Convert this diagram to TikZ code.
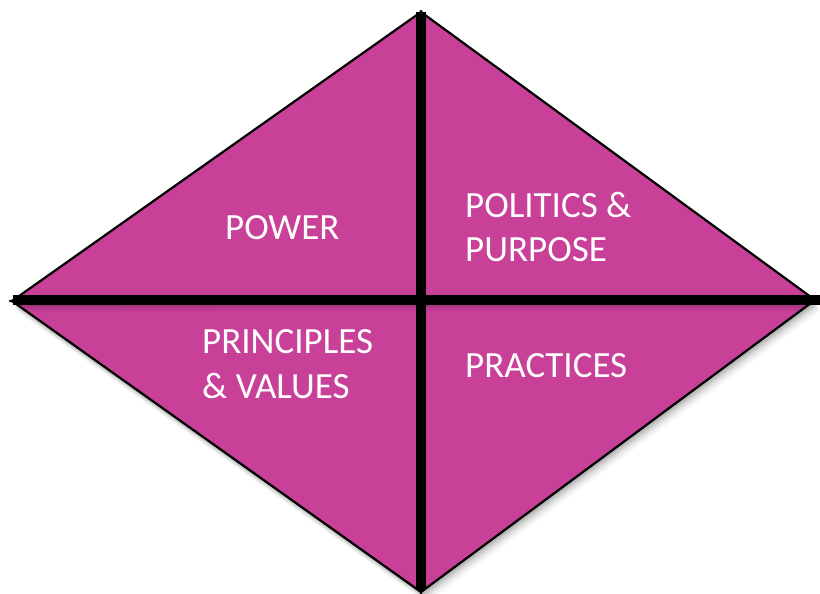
\documentclass[tikz,border=0pt]{standalone}
\usepackage{fontspec}
\setmainfont{Carlito}
\definecolor{mag}{RGB}{200,64,152}
\newcommand\trishadow[3]{%
  \foreach \d/\o in {1/0.12,3/0.10,5/0.08,7/0.06,9/0.04,11/0.03}{%
    \fill[black,opacity=\o] ([shift={(0.5*\d,\d)}]#1) -- ([shift={(0.5*\d,\d)}]#2) -- ([shift={(0.5*\d,\d)}]#3) -- cycle;}}
\begin{document}
\begin{tikzpicture}[x=1pt,y=-1pt,
  tri/.style={fill=mag,draw=black,line width=2.2pt,line join=miter},
  bar/.style={draw=black,line width=10pt},
  lbl/.style={text=white,font=\fontsize{37}{44}\selectfont,inner sep=0pt,anchor=base west}]
\useasboundingbox (0,0) rectangle (820,594);
\coordinate (T) at (421,12);
\coordinate (B) at (421,592);
\coordinate (L) at (12,301);
\coordinate (R) at (815,300);
\coordinate (C) at (421,300);
\coordinate (LE) at (13,300);
\coordinate (RE) at (820,300);
\coordinate (TE) at (421,12);
\coordinate (BE) at (421,590);
% bottom-right
\trishadow{C}{R}{B}
\draw[tri] (C) -- (R) -- (B) -- cycle;
% bottom-left
\trishadow{L}{C}{B}
\draw[tri] (L) -- (C) -- (B) -- cycle;
% top-right
\trishadow{T}{R}{C}
\draw[tri] (T) -- (R) -- (C) -- cycle;
% top-left
\trishadow{L}{T}{C}
\draw[tri] (L) -- (T) -- (C) -- cycle;
% cross
\draw[bar] (LE) -- (RE);
\draw[bar] (TE) -- (BE);
% labels
\node[lbl] (power) at (225,239) {POWER};
\node[lbl] (pol1) at (465,217) {POLITICS \&};
\node[lbl] (pol2) at (465,261) {PURPOSE};
\node[lbl] (pri1) at (202,353) {PRINCIPLES};
\node[lbl] (pri2) at (202,398) {\& VALUES};
\node[lbl] (prac) at (465,377) {PRACTICES};
\end{tikzpicture}
\end{document}
